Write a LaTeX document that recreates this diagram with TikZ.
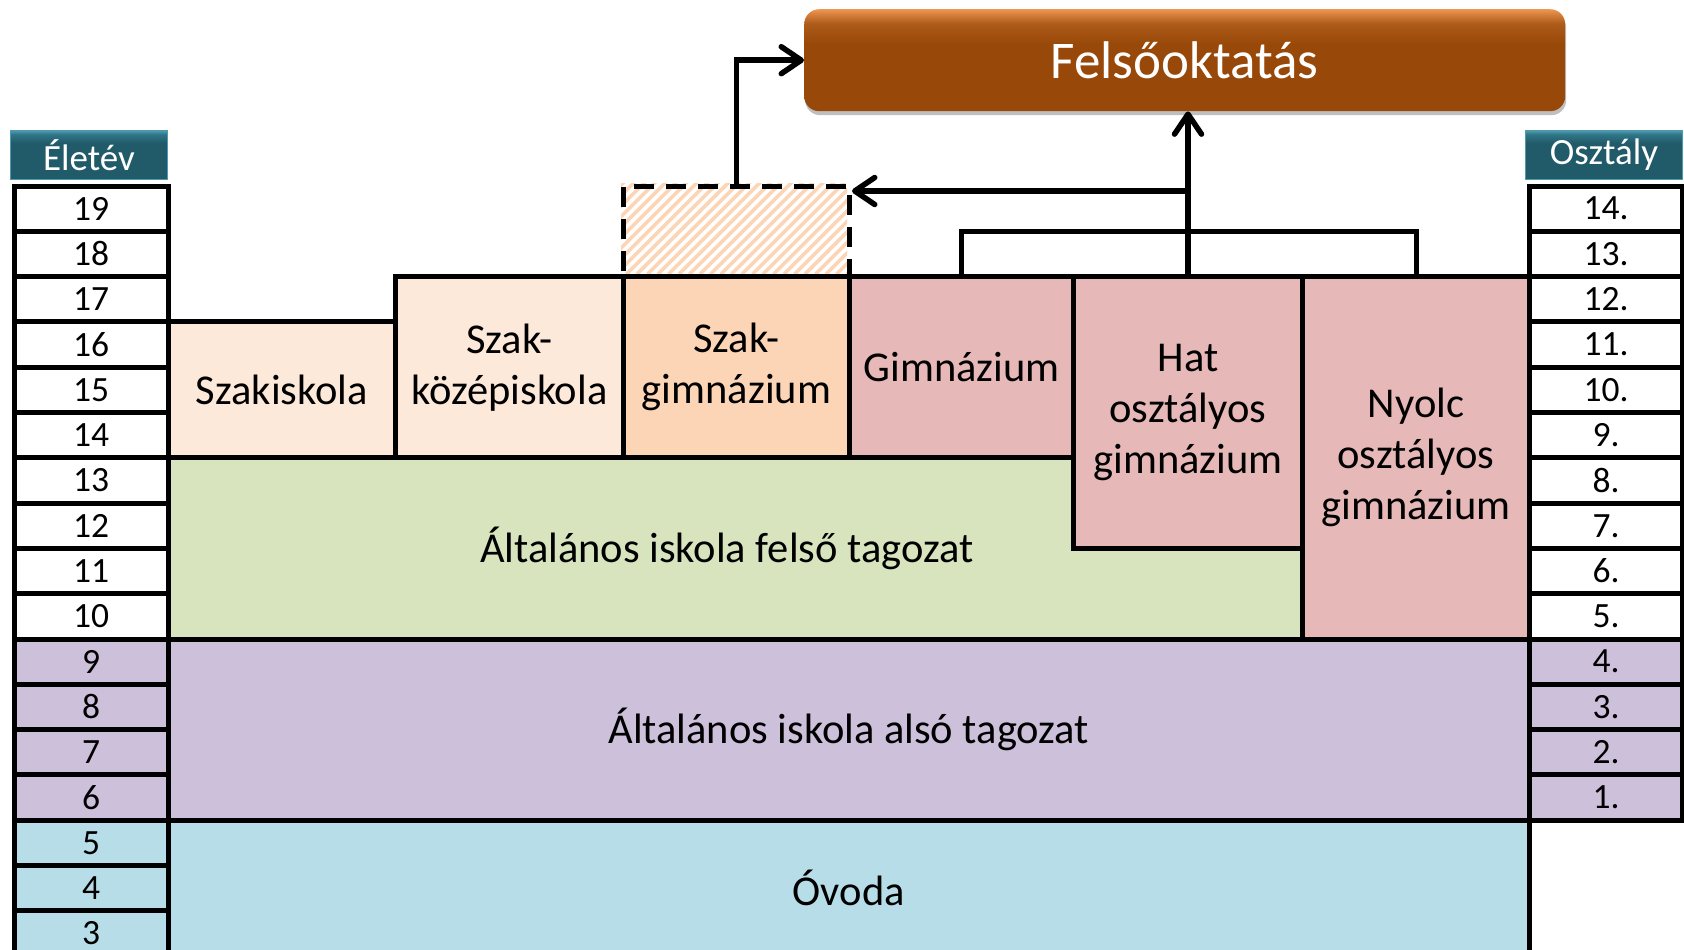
\documentclass[tikz,border=0pt]{standalone}
\usepackage{fontspec}
\setmainfont{Carlito}
\usetikzlibrary{arrows.meta,shadows}
\definecolor{peachL}{HTML}{FDE9D9}
\definecolor{peach}{HTML}{FBD5B5}
\definecolor{rose}{HTML}{E6B8B7}
\definecolor{gcol}{HTML}{D7E4BD}
\definecolor{lil}{HTML}{CCC0DA}
\definecolor{sky}{HTML}{B7DEE8}
\definecolor{brB}{HTML}{984808}
\definecolor{brM}{HTML}{AE5B1A}
\definecolor{brT}{HTML}{EE9552}
\definecolor{tealB}{HTML}{215A69}
\definecolor{tealM}{HTML}{2F7587}
\definecolor{tealT}{HTML}{4E9BAE}
\pgfdeclareverticalshading{brsh}{100bp}{color(0bp)=(brB); color(25bp)=(brB); color(58bp)=(brB); color(68bp)=(brM); color(75bp)=(brT); color(100bp)=(brT)}
\pgfdeclareverticalshading{tealsh}{100bp}{color(0bp)=(tealB); color(25bp)=(tealB); color(62bp)=(tealB); color(71bp)=(tealM); color(75bp)=(tealT); color(100bp)=(tealT)}
\newcommand\rbox[7]{\node[blk,#1,anchor=north west,minimum width={#5-#3},minimum height={#6-#4}] (#2) at (#3,#4) {#7};}
\tikzset{
  cell/.style={draw=black, line width=5pt, inner sep=0pt, anchor=north west,
    font=\fontsize{35.5}{40}\selectfont},
  blk/.style={draw=black, line width=5pt, inner sep=0pt, align=center,
    font=\fontsize{42.5}{51}\selectfont},
  hdr/.style={shading=tealsh, draw=tealT, line width=1pt, text=white, inner sep=0pt,
    anchor=north west, minimum width=157pt, minimum height=49pt,
    font=\fontsize{37}{40}\selectfont},
  conn/.style={line width=5.5pt, -{Straight Barb[length=20pt,width=27pt,round]}},
  brk/.style={line width=5pt},
}
\begin{document}
\begin{tikzpicture}[x=1pt,y=-1pt]
\useasboundingbox (0,0) rectangle (1684,950);
\clip (0,0) rectangle (1684,950);
\fill[white] (0,0) rectangle (1684,950);
% left column
\foreach \a [count=\i from 0] in {19,18,...,3}{
  \pgfmathsetmacro\yy{183.5+\i*45.3}
  \ifnum\a>9 \def\fc{white}\else\ifnum\a>5 \def\fc{lil}\else\def\fc{sky}\fi\fi
  \node[cell, fill=\fc, minimum width=154pt, minimum height=45.3pt] (age\a) at (11.5,\yy) {\a};
}
% right column
\foreach \g [count=\i from 0] in {14,13,...,1}{
  \pgfmathsetmacro\yy{183.5+\i*45.3}
  \ifnum\g>4 \def\fc{white}\else\def\fc{lil}\fi
  \node[cell, fill=\fc, minimum width=153pt, minimum height=45.3pt] (gr\g) at (1527,\yy) {\g.};
}
\node[hdr] (hL) at (10,130) {Életév};
\node[hdr] (hR) at (1525,130) {Osztály};
% main blocks
\rbox{fill=sky}{ovoda}{165.5}{817.7}{1527}{953.6}{Óvoda}
\rbox{fill=lil}{also}{165.5}{636.5}{1527}{817.7}{Általános iskola alsó tagozat}
\rbox{fill=gcol}{felso}{165.5}{455.3}{1300}{636.5}{Általános iskola felső tagozat\hspace*{17pt}}
\rbox{fill=rose}{hat}{1071}{274.1}{1300}{545.9}{Hat\\osztályos\\gimnázium}
\rbox{fill=rose}{nyolc}{1300}{274.1}{1527}{636.5}{Nyolc\\osztályos\\gimnázium}
\rbox{fill=rose}{gim}{847}{274.1}{1071}{455.3}{Gimnázium}
\rbox{fill=peachL}{szaki}{165.5}{319.4}{393}{455.3}{Szakiskola}
\rbox{fill=peachL}{szkozep}{393}{274.1}{621}{455.3}{Szak-\\középiskola}
% hatched dashed box
\begin{scope}
  \clip (621,183.5) rectangle (847,274.1);
  \foreach \k in {0,...,33}{
    \draw[peach, line width=3.6pt] ({511+\k*10.5},274.1) -- ++(100,-100);
  }
\end{scope}
\node[draw=black, line width=5pt, dash pattern=on 20pt off 12pt, inner sep=0pt,
  anchor=north west, minimum width=226pt, minimum height=90.6pt] (hatch) at (621,183.5) {};
\rbox{fill=peach}{szgim}{621}{274.1}{847}{455.3}{Szak-\\gimnázium}
% Felsooktatas
\node[shading=brsh, rounded corners=15pt, text=white, inner sep=0pt,
  anchor=north west, minimum width=761pt, minimum height=102pt,
  drop shadow={shadow xshift=1pt, shadow yshift=-4pt, opacity=0.25, fill=black},
  font=\fontsize{53}{60}\selectfont] (fo) at (804,9) {Felsőoktatás};
% connectors
\draw[brk] (gim.north) -- ++(0,-43) -| (nyolc.north);
\draw[conn] (hat.north) -- (hat.north |- fo.south);
\coordinate (jn) at (1185.5,191);
\draw[conn] (jn) -- (hatch.east |- jn);
\draw[conn] (hatch.north) |- (fo.west);
\end{tikzpicture}
\end{document}
